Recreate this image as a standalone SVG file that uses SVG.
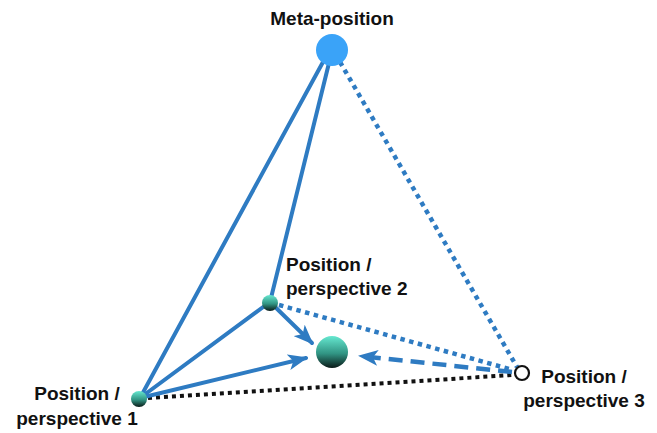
<svg xmlns="http://www.w3.org/2000/svg" width="657" height="433" viewBox="0 0 657 433">
<style>
.lbl{font-family:"Liberation Sans",Arial,sans-serif;font-weight:bold;font-size:19px;fill:#111}
.solid{stroke:#2e7bc2;stroke-width:4;fill:none;stroke-linecap:round}
.bdot{stroke:#2e7bc2;stroke-width:4.5;fill:none;stroke-dasharray:4.5 4.5}
.kdot{stroke:#111;stroke-width:4;fill:none;stroke-dasharray:4 4}
.dash{stroke:#2e7bc2;stroke-width:4.5;fill:none;stroke-dasharray:14 8}
</style>
<defs>
<linearGradient id="ball" x1="0" y1="0" x2="0" y2="1">
<stop offset="0" stop-color="#66e8d0"/>
<stop offset="0.55" stop-color="#319483"/>
<stop offset="1" stop-color="#0a1a17"/>
</linearGradient>
<marker id="arr" markerUnits="userSpaceOnUse" markerWidth="20" markerHeight="16" refX="18" refY="8" orient="auto" viewBox="0 0 20 16">
<path d="M0,0 L20,8 L0,16 L5,8 z" fill="#2e7bc2"/>
</marker>
</defs>
<g id="connectors">
<line class="bdot" x1="340" y1="62" x2="517" y2="367"/>
<line class="bdot" x1="279" y1="305" x2="513" y2="370"/>
<line class="kdot" x1="148" y1="398" x2="513" y2="375"/>
<line class="solid" x1="323" y1="62" x2="140" y2="398"/>
<line class="solid" x1="329" y1="63" x2="270" y2="302"/>
<line class="solid" x1="140" y1="398" x2="270" y2="302"/>
<line class="solid" x1="270" y1="302" x2="312" y2="343" marker-end="url(#arr)"/>
<line class="solid" x1="140" y1="398" x2="306" y2="358" marker-end="url(#arr)"/>
<line class="dash" x1="512" y1="372" x2="360" y2="356" marker-end="url(#arr)"/>
</g>
<g id="meta">
<circle cx="332" cy="50" r="16" fill="#3aa3f8"/>
<text class="lbl" x="332" y="25" text-anchor="middle">Meta-position</text>
</g>
<g id="p2">
<circle cx="270" cy="303" r="8" fill="url(#ball)"/>
<text class="lbl" x="286" y="271">Position /</text>
<text class="lbl" x="286" y="295">perspective 2</text>
</g>
<g id="p1">
<circle cx="139" cy="399" r="8" fill="url(#ball)"/>
<text class="lbl" x="77" y="400" text-anchor="middle">Position /</text>
<text class="lbl" x="77" y="425" text-anchor="middle">perspective 1</text>
</g>
<g id="p3">
<circle cx="522" cy="373" r="7" fill="#fff" stroke="#111" stroke-width="2.2"/>
<text class="lbl" x="584" y="383" text-anchor="middle">Position /</text>
<text class="lbl" x="584" y="407" text-anchor="middle">perspective 3</text>
</g>
<g id="center">
<circle cx="332" cy="352" r="16" fill="url(#ball)"/>
</g>
</svg>
